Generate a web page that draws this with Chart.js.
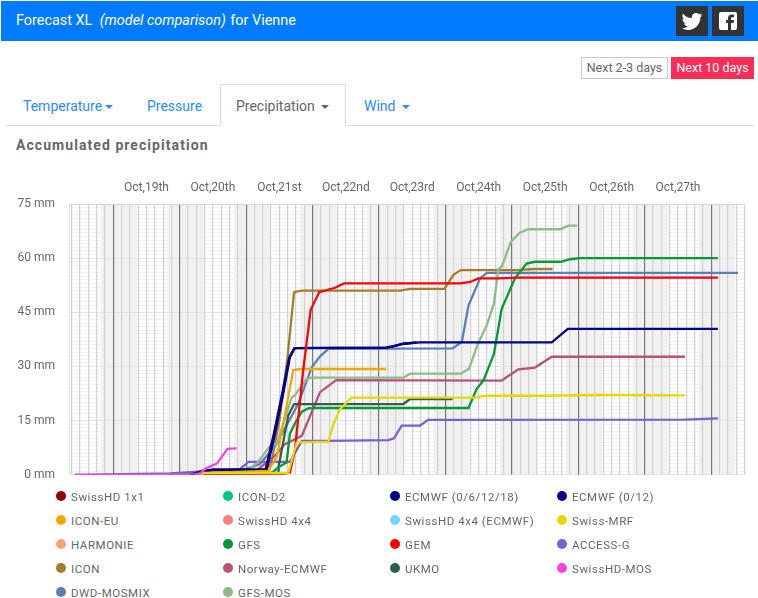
<!DOCTYPE html>
<html>
<head>
<meta charset="utf-8">
<title>Forecast XL</title>
<script src="https://cdn.jsdelivr.net/npm/chart.js@4"></script>
<style>
  html, body { margin: 0; padding: 0; background: #fff; }
  body { width: 758px; height: 598px; position: relative; overflow: hidden; font-family: Roboto, sans-serif; color: #666; }
  .abs { position: absolute; white-space: nowrap; }
  #head { left: 1px; top: 1px; width: 757px; height: 40px; background: #007bff; color: #fff; font-size: 14.4px; line-height: 40px; text-indent: 15px; }
  #head em { margin-left: 4px; margin-right: 1px; }
  .social { top: 6px; width: 32px; height: 30px; background: #333; }
  .social svg { position: absolute; left: 4px; top: 3px; width: 24px; height: 24px; fill: #fff; }
  .btn { top: 57px; height: 22px; line-height: 22px; font-size: 12.5px; text-align: center; box-sizing: border-box; }
  .tab { top: 97px; font-size: 14px; color: #2a8cff; line-height: 18px; }
  .caret { display: inline-block; border: 4px solid transparent; border-top-color: currentColor; border-bottom: 0; vertical-align: middle; margin-left: 3px; }
  #tabline { left: 6px; top: 125px; width: 748px; height: 1px; background: #ddd; }
  #active { left: 220px; top: 84px; width: 126px; height: 42px; box-sizing: border-box; border: 1px solid #ddd; border-bottom: 1px solid #fff; background: #fff; }
  #title { left: 16px; top: 137px; font-size: 14px; font-weight: 700; letter-spacing: 1.06px; color: #666; }
  #chart { position: absolute; left: 0; top: 170px; }
  .leg { position: absolute; font-size: 11.5px; letter-spacing: 0.55px; line-height: 14px; color: #666; white-space: nowrap; }
  .leg i { position: absolute; left: -15px; top: 1px; width: 10px; height: 10px; border-radius: 50%; }
</style>
</head>
<body>
<div class="abs" id="head">Forecast XL <em>(model comparison)</em> for Vienne</div>
<div class="abs social" style="left:676px"><svg viewBox="0 0 24 24"><path d="M22.46 6c-.77.35-1.6.58-2.46.69.88-.53 1.56-1.37 1.88-2.38-.83.5-1.75.85-2.72 1.05C18.37 4.5 17.26 4 16 4c-2.35 0-4.27 1.92-4.27 4.29 0 .34.04.67.11.98C8.28 9.09 5.11 7.38 3 4.79c-.37.63-.58 1.37-.58 2.15 0 1.49.75 2.81 1.91 3.56-.71 0-1.37-.2-1.95-.5v.03c0 2.08 1.48 3.82 3.44 4.21a4.22 4.22 0 0 1-1.93.07 4.28 4.28 0 0 0 4 2.98 8.521 8.521 0 0 1-5.33 1.84c-.34 0-.68-.02-1.02-.06C3.44 20.29 5.7 21 8.12 21 16 21 20.33 14.46 20.33 8.79c0-.19 0-.37-.01-.56.84-.6 1.56-1.36 2.14-2.23z"/></svg></div>
<div class="abs social" style="left:712px"><svg viewBox="0 0 24 24"><path d="M5 3h14a2 2 0 0 1 2 2v14a2 2 0 0 1-2 2h-4v-7h2.5l.5-3h-3V9.5c0-.8.4-1.2 1.2-1.2H18V5.5h-2.2C13.5 5.5 12 7 12 9.2V11h-2v3h2v7H5a2 2 0 0 1-2-2V5a2 2 0 0 1 2-2z"/></svg></div>
<div class="abs btn" style="left:581px;width:87px;border:1px solid #ccc;color:#666;line-height:20px">Next 2-3 days</div>
<div class="abs btn" style="left:671px;width:83px;background:#ff2d55;color:#fff">Next 10 days</div>
<div class="abs" id="tabline"></div>
<div class="abs" id="active"></div>
<div class="abs tab" style="left:23px">Temperature<span class="caret"></span></div>
<div class="abs tab" style="left:147px">Pressure</div>
<div class="abs tab" style="left:236px;color:#666">Precipitation <span class="caret"></span></div>
<div class="abs tab" style="left:364px">Wind <span class="caret"></span></div>
<div class="abs" id="title">Accumulated precipitation</div>
<canvas id="chart" width="758" height="326"></canvas>
<div id="legend"></div>
<script>
// hours are counted from Oct 19th 00:00
let dayLabels = ['Oct,19th', 'Oct,20th', 'Oct,21st', 'Oct,22nd', 'Oct,23rd', 'Oct,24th', 'Oct,25th', 'Oct,26th', 'Oct,27th']
let yTicks = [0, 15, 30, 45, 60, 75]

let ecmwf6Hours = [28, 32.4, 36, 55, 58, 61, 63.6, 65.4, 98.5, 101, 104.8, 109.6]
let ecmwf6Values = [0, 1.1, 1.4, 1.4, 11.4, 22.5, 32.6, 35.1, 35.2, 35.6, 36.3, 36.7]
let ecmwf12Hours = [28, 32.4, 36, 55.4, 58.4, 61.4, 63.8, 65.6, 98.5, 101, 104.8, 110.8, 158.4, 164.2, 218.4]
let ecmwf12Values = [0, 1.1, 1.4, 1.4, 11.4, 22.5, 32.6, 35.1, 35.2, 35.6, 36.3, 36.7, 36.7, 40.4, 40.4]
let iconEuHours = [31, 36, 55.9, 59, 61.4, 65, 67.4, 98.5]
let iconEuValues = [0, 0.6, 1.1, 4.8, 14, 29, 29.3, 29.3]
let mrfHours = [31, 33, 63.2, 66.3, 77.7, 79.5, 81.9, 86.1, 130.7, 134.3, 155, 176, 206.5]
let mrfValues = [0, 0.5, 0.5, 9, 9.2, 14, 18.2, 21.4, 21.4, 21.9, 21.9, 22.1, 22]
let gfsHours = [28, 57, 59.5, 62.6, 63.8, 65.6, 68.1, 70.4, 72.3, 128.3, 131.3, 133.7, 137.5, 140.3, 145.1, 149.3, 152.3, 161.6, 165, 168.6, 218.4]
let gfsValues = [0, 0.4, 2, 3.4, 11.4, 14.2, 17.5, 18.4, 18.5, 18.5, 23.8, 26.1, 33.5, 46, 54.4, 58.5, 59, 59, 59.7, 60, 60]
let gemHours = [31, 60, 63.8, 65.6, 68.6, 71.3, 74.4, 80.1, 83.3, 125.3, 128.9, 131.9, 139, 146.3, 218.4]
let gemValues = [0, 0, 0.6, 6.7, 28.9, 45.7, 50.6, 51.8, 53, 53, 53.4, 54.4, 54.4, 54.6, 54.6]
let accessHours = [-14, 20.5, 45.8, 48.8, 63.8, 68.1, 77.7, 99.4, 101.4, 104.2, 110.8, 113.7, 206.5, 218.4]
let accessValues = [0, 0.4, 1.6, 3.6, 3.6, 9.4, 9.4, 9.6, 10.1, 13.6, 13.6, 15.2, 15.3, 15.6]
let iconHours = [20, 28.8, 31, 54, 57, 60, 63, 65.3, 68.1, 103.6, 107.2, 119.6, 122.8, 125.5, 146, 152, 158.7]
let iconValues = [0, 0.3, 0.9, 1, 3, 15, 33, 50.6, 51, 51, 51.5, 51.5, 55.3, 56.7, 56.7, 57, 57]
let norwayHours = [50.5, 53, 57.8, 62, 68.1, 74.7, 80.5, 140.3, 146.3, 152.3, 158.4, 206.5]
let norwayValues = [0.5, 2, 4.8, 8.5, 10.8, 22.9, 26.2, 26.1, 29.2, 29.7, 32.7, 32.7]
let ukmoHours = [45, 59.5, 59.7, 63.2, 65.3, 104.8, 107.2, 122.6]
let ukmoValues = [0.4, 0.6, 2.2, 16.4, 19.6, 19.6, 21, 21]
let mosHours = [-14, 28, 31.3, 33.7, 37.4, 41.3, 44.6]
let mosValues = [0, 0, 0.4, 1.9, 3.1, 7.2, 7.3]
let dwdHours = [45, 53, 59, 66.8, 71.7, 74.7, 77.7, 122.6, 125.9, 128.3, 132.5, 134.9, 225.7]
let dwdValues = [0.8, 3, 8.5, 19.7, 29.8, 32.8, 34.9, 35, 36.8, 46.9, 54.4, 55.9, 55.9]
let gfsMosHours = [48, 52.4, 56.6, 59, 64.5, 65.6, 69.9, 71.7, 104.8, 107.2, 125.6, 128.5, 131.5, 134.9, 137.5, 139.1, 140.3, 143.6, 146.7, 149.9, 161.4, 164.4, 167.6]
let gfsMosValues = [0.8, 3.6, 8, 8.5, 21.5, 22, 26.6, 26.9, 26.9, 28, 28, 29.4, 35.8, 41.4, 47.4, 57.1, 57.6, 64.5, 67, 68, 68, 69, 69]

// painted last to first, so the first name ends up on top
let stacking = ['SwissHD-MOS', 'Swiss-MRF', 'GEM', 'ICON-EU', 'ECMWF (0/12)', 'ECMWF (0/6/12/18)', 'GFS', 'UKMO', 'Norway-ECMWF', 'GFS-MOS', 'DWD-MOSMIX', 'ACCESS-G', 'ICON']

function series(label, color, hours, values) {
  return {
    label: label,
    borderColor: color,
    backgroundColor: color,
    order: stacking.indexOf(label),
    data: hours.map((h, i) => ({x: h, y: values[i]}))
  };
}

let datasets = [
  series('SwissHD 1x1', '#8b0000', [], []),
  series('ICON-D2', '#00c77f', [], []),
  series('ECMWF (0/6/12/18)', '#00008b', ecmwf6Hours, ecmwf6Values),
  series('ECMWF (0/12)', '#00008b', ecmwf12Hours, ecmwf12Values),
  series('ICON-EU', '#f0a800', iconEuHours, iconEuValues),
  series('SwissHD 4x4', '#ff7f7f', [], []),
  series('SwissHD 4x4 (ECMWF)', '#6fd8ff', [], []),
  series('Swiss-MRF', '#e6d800', mrfHours, mrfValues),
  series('HARMONIE', '#ffa07a', [], []),
  series('GFS', '#009933', gfsHours, gfsValues),
  series('GEM', '#ff0000', gemHours, gemValues),
  series('ACCESS-G', '#7b5fd0', accessHours, accessValues),
  series('ICON', '#a67c2e', iconHours, iconValues),
  series('Norway-ECMWF', '#b8527a', norwayHours, norwayValues),
  series('UKMO', '#2d5f4c', ukmoHours, ukmoValues),
  series('SwissHD-MOS', '#ff40e6', mosHours, mosValues),
  series('DWD-MOSMIX', '#5b7fb5', dwdHours, dwdValues),
  series('GFS-MOS', '#8fba8a', gfsMosHours, gfsMosValues)
];

// grey night bands behind the grid
let nightBands = {
  id: 'nightBands',
  beforeDraw(chart) {
    let x = chart.scales.x, a = chart.chartArea, c = chart.ctx;
    c.save();
    c.fillStyle = '#f0f0f0';
    for (let d = 0; d <= 9; d++) {
      let from = x.getPixelForValue(d * 24 - 4.4), to = x.getPixelForValue(d * 24 + 8.6);
      c.fillRect(from, a.top, to - from, a.bottom - a.top);
    }
    c.restore();
  }
};

let canvas = document.getElementById('chart');
canvas.getContext('2d').letterSpacing = '0.6px';

let chart = new Chart(canvas, {
  type: 'line',
  data: {datasets: datasets},
  plugins: [nightBands],
  options: {
    responsive: false,
    animation: false,
    layout: {padding: {left: 0, right: 13, top: 0, bottom: 6}},
    elements: {
      point: {radius: 0},
      line: {borderWidth: 2.3, tension: 0, fill: false}
    },
    plugins: {legend: {display: false}, tooltip: {enabled: false}},
    scales: {
      x: {
        type: 'linear',
        position: 'top',
        min: -16,
        max: 228.2,
        afterBuildTicks(axis) {
          let t = [];
          for (let h = -15; h <= 228; h += 3) t.push({value: h});
          axis.ticks = t;
        },
        afterFit(axis) { axis.height = 34; },
        border: {color: '#ccd6eb', width: 1},
        grid: {
          z: -1,
          drawTicks: false,
          color: c => c.tick && c.tick.value % 24 === 0 ? '#777777' : '#d2d2d2',
          lineWidth: 1.2
        },
        ticks: {
          autoSkip: false,
          maxRotation: 0,
          padding: 9,
          color: '#666',
          font: {family: 'Roboto', size: 12},
          callback: v => (v % 24 === 12 && dayLabels[(v - 12) / 24]) || ''
        }
      },
      y: {
        min: 0,
        max: 75,
        afterBuildTicks(axis) {
          let t = [];
          for (let v = 0; v <= 75; v++) t.push({value: v});
          axis.ticks = t;
        },
        afterFit(axis) { axis.width = 69; },
        border: {color: '#e0e0e0', width: 1},
        grid: {
          z: -2,
          drawTicks: false,
          color: c => c.tick && yTicks.includes(c.tick.value) ? '#e4e4e4' : '#f1f1f1',
          lineWidth: 1
        },
        ticks: {
          autoSkip: false,
          padding: 14,
          color: '#666',
          font: {family: 'Roboto', size: 12},
          callback: v => yTicks.includes(v) ? v + ' mm' : ''
        }
      }
    }
  }
});

// four columns of legend entries, including the models without data
let legendX = [71, 238, 405, 572];
let legendY = 490;
chart.data.datasets.forEach((d, i) => {
  let el = document.createElement('div');
  el.className = 'leg';
  el.style.left = legendX[i % 4] + 'px';
  el.style.top = (legendY + Math.floor(i / 4) * 24) + 'px';
  el.innerHTML = '<i style="background:' + d.borderColor + '"></i>' + d.label;
  document.getElementById('legend').appendChild(el);
});
</script>
</body>
</html>
